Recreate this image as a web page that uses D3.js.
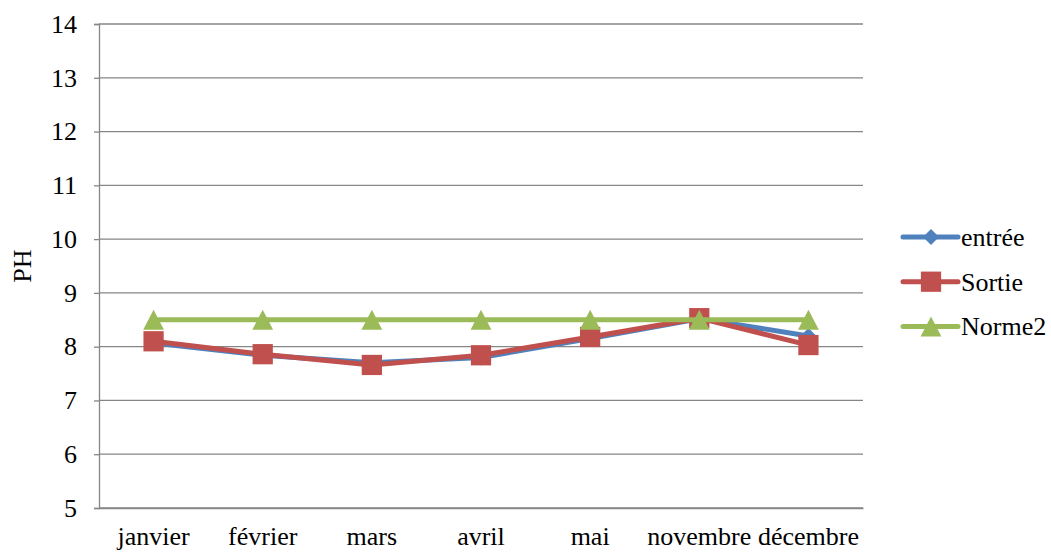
<!DOCTYPE html>
<html>
<head>
<meta charset="utf-8">
<script src="https://cdn.jsdelivr.net/npm/d3@7"></script>
<style>
  body { margin: 0; background: #fff; }
</style>
</head>
<body>
<div id="chart"></div>
<script>
// data
const months = ["janvier", "février", "mars", "avril", "mai", "novembre", "décembre"];
const entree = [8.07, 7.84, 7.70, 7.80, 8.15, 8.52, 8.20];
const sortie = [8.10, 7.86, 7.66, 7.84, 8.18, 8.53, 8.03];
const norme2 = [8.5, 8.5, 8.5, 8.5, 8.5, 8.5, 8.5];
const yTicks = [5, 6, 7, 8, 9, 10, 11, 12, 13, 14];

const FONT = "Liberation Serif";
const FS = 26;

const series = [
  {name: "entrée", values: entree, color: "#4F81BD", shape: "diamond"},
  {name: "Sortie", values: sortie, color: "#C0504D", shape: "square"},
  {name: "Norme2", values: norme2, color: "#9BBB59", shape: "triangle"}
];

const W = 1051, H = 553;
const margin = {top: 24, right: 188, bottom: 45, left: 99};
const width = W - margin.left - margin.right,
      height = H - margin.top - margin.bottom;

const svg = d3.select("#chart").append("svg")
  .attr("width", W).attr("height", H)
  .attr("font-family", FONT);
const g = svg.append("g")
  .attr("transform", `translate(${margin.left},${margin.top})`);

const x = d3.scaleBand().domain(months).range([0, width]);
const y = d3.scaleLinear().domain([5, 14]).range([height, 0]);

// gridlines
g.selectAll(".grid").data(yTicks).join("line")
  .attr("x1", 0).attr("x2", width)
  .attr("y1", d => y(d)).attr("y2", d => y(d))
  .attr("stroke", "#868686").attr("stroke-width", 1.3);

// y axis
const yAxis = g.append("g").call(d3.axisLeft(y).tickValues(yTicks).tickSize(5).tickPadding(17))
  .attr("font-family", FONT).attr("font-size", FS);
yAxis.select(".domain").attr("stroke", "#868686").attr("stroke-width", 1.3);
yAxis.selectAll(".tick line").attr("stroke", "#868686").attr("stroke-width", 1.3);
yAxis.selectAll("text").attr("fill", "#000");

// x axis
const xAxis = g.append("g").attr("transform", `translate(0,${height})`)
  .call(d3.axisBottom(x).tickSize(0).tickPadding(19))
  .attr("font-family", FONT).attr("font-size", FS);
xAxis.select(".domain").attr("stroke", "#868686").attr("stroke-width", 1.3);
xAxis.selectAll("text").attr("fill", "#000");

// y label
svg.append("text")
  .attr("transform", `translate(31,${margin.top + height / 2}) rotate(-90)`)
  .attr("text-anchor", "middle")
  .attr("font-size", FS)
  .text("PH");

// marker shapes
const diamond = {draw(ctx, size) {
  const r = Math.sqrt(size / 2);
  ctx.moveTo(0, -r); ctx.lineTo(r, 0); ctx.lineTo(0, r); ctx.lineTo(-r, 0); ctx.closePath();
}};
const triangle = {draw(ctx, size) {
  const h = Math.sqrt(size);
  ctx.moveTo(0, -h / 2); ctx.lineTo(h * 0.52, h / 2); ctx.lineTo(-h * 0.52, h / 2); ctx.closePath();
}};
const symbolFor = {
  diamond: d3.symbol().type(diamond).size(128),
  square: d3.symbol().type(d3.symbolSquare).size(410),
  triangle: d3.symbol().type(triangle).size(400)
};

const line = d3.line()
  .x((d, i) => x(months[i]) + x.bandwidth() / 2)
  .y(d => y(d));

series.forEach(s => {
  g.append("path")
    .attr("d", line(s.values))
    .attr("fill", "none")
    .attr("stroke", s.color)
    .attr("stroke-width", 5)
    .attr("stroke-linejoin", "round");
  g.selectAll(null).data(s.values).join("path")
    .attr("d", symbolFor[s.shape]())
    .attr("transform", (d, i) => `translate(${x(months[i]) + x.bandwidth() / 2},${y(d)})`)
    .attr("fill", s.color);
});

// legend
const legend = svg.append("g").attr("transform", "translate(903,237)");
series.forEach((s, i) => {
  const row = legend.append("g").attr("transform", `translate(0,${i * 44.7})`);
  row.append("line").attr("x1", 0).attr("x2", 55).attr("y1", 0).attr("y2", 0)
    .attr("stroke", s.color).attr("stroke-width", 5).attr("stroke-linecap", "round");
  row.append("path").attr("d", symbolFor[s.shape]())
    .attr("transform", `translate(28,0)`)
    .attr("fill", s.color);
  row.append("text").attr("x", 58).attr("y", 9)
    .attr("font-size", FS).text(s.name);
});
</script>
</body>
</html>
